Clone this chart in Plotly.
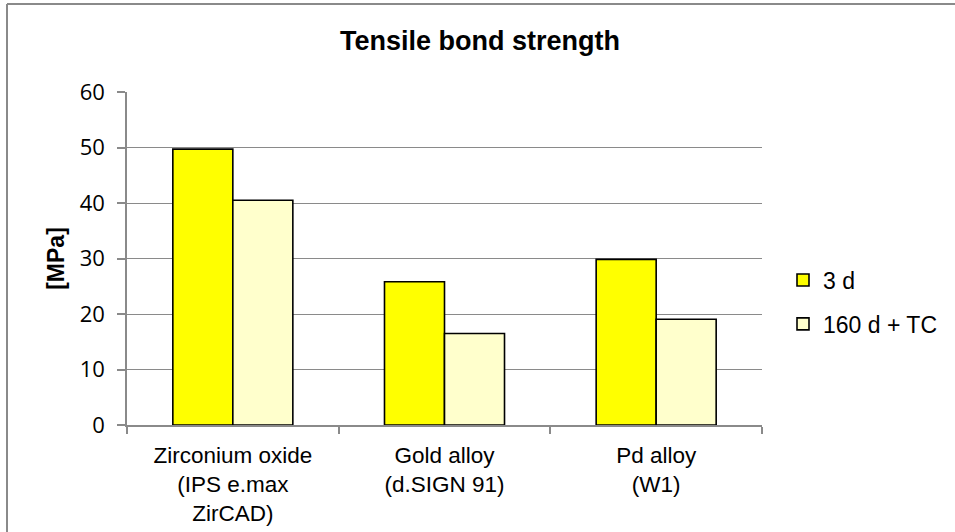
import plotly.graph_objects as go

categories = ["Zirconium oxide<br>(IPS e.max<br>ZirCAD)", "Gold alloy<br>(d.SIGN 91)", "Pd alloy<br>(W1)"]
series_3d = [49.7, 25.8, 29.85]
series_160d = [40.5, 16.5, 19.05]
series_names = ["3 d", "160 d + TC"]
y_ticks = [0, 10, 20, 30, 40, 50, 60]

W, H = 955, 532
L, R, T, B = 127, 762, 92, 425
pw, ph = R - L, B - T

fig = go.Figure()
fig.add_trace(go.Bar(x=categories, y=series_3d, name=series_names[0], legendgroup="a",
                     marker=dict(color="#FFFF00", line=dict(color="#000000", width=1.6))))
fig.add_trace(go.Bar(x=categories, y=series_160d, name=series_names[1], legendgroup="b",
                     marker=dict(color="#FFFFCC", line=dict(color="#000000", width=1.6))))

grid = "#8a8a8a"
fig.update_layout(
    width=W, height=H,
    margin=dict(l=L, r=W - R, t=T, b=H - B, pad=0, autoexpand=False),
    paper_bgcolor="white", plot_bgcolor="white",
    barmode="group", bargap=0.433, bargroupgap=0,
    font=dict(family="Liberation Sans, Arial", color="black", size=23),
    title=dict(text="<b>Tensile bond strength</b>", x=480 / W, xref="container", xanchor="center",
               y=1 - 41 / H, yref="container", yanchor="middle",
               font=dict(size=27, family="Liberation Sans, Arial", color="black")),
    legend=dict(x=(783 - L) / pw, xanchor="left", y=(B - 302) / ph, yanchor="middle",
                font=dict(size=23), traceorder="grouped", tracegroupgap=11, itemwidth=30,
                bgcolor="rgba(0,0,0,0)"),
    showlegend=True,
)
fig.update_xaxes(type="category", tickson="boundaries", ticks="outside", ticklen=7,
                 tickcolor=grid, tickwidth=1.5, showline=True, linecolor=grid, linewidth=1.5,
                 showgrid=False, tickfont=dict(size=22.5, family="Liberation Sans, Arial"),
                 ticklabelstandoff=9)
fig.update_yaxes(range=[0, 60], tickvals=y_ticks, ticks="outside", ticklen=8, tickcolor=grid,
                 tickwidth=1.5, showline=True, linecolor=grid, linewidth=1.5,
                 showgrid=True, gridcolor=grid, gridwidth=1.3, zeroline=False,
                 tickfont=dict(size=22, family="Open Sans, Liberation Sans"),
                 ticklabelstandoff=8,
                 title=dict(text="<b>[MPa]</b>", font=dict(size=23), standoff=9))

# outer chart frame (left and top edges visible)
fig.add_shape(type="line", xref="paper", yref="paper", x0=(7 - L) / pw, x1=(7 - L) / pw,
              y0=(B - 4) / ph, y1=(B - 560) / ph, line=dict(color=grid, width=2))
fig.add_shape(type="line", xref="paper", yref="paper", x0=(7 - L) / pw, x1=(980 - L) / pw,
              y0=(B - 4) / ph, y1=(B - 4) / ph, line=dict(color=grid, width=2))

fig.write_html("out.html", config={"displayModeBar": False},
               post_script="document.body.style.margin='0';")
